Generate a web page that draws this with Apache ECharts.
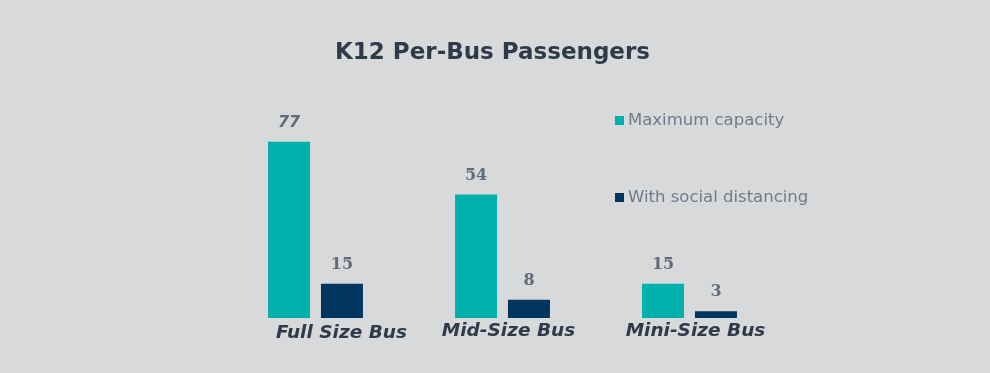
<!DOCTYPE html>
<html><head><meta charset="utf-8">
<script src="https://cdn.jsdelivr.net/npm/echarts@6/dist/echarts.min.js"></script>
<style>html,body{margin:0;padding:0;background:#d8d9db;}#c{width:990px;height:373px;}</style>
</head><body><div id="c"></div>
<script>
var categories = ['Full Size Bus', 'Mid-Size Bus', 'Mini-Size Bus'];
var maxCapacity = [77, 54, 15];
var socialDistancing = [15, 8, 3];
var seriesNames = ['Maximum capacity', 'With social distancing'];
var labelShift = [52, 12, 12];

var chart = echarts.init(document.getElementById('c'));
var labelStyle = {show: true, position: 'top', distance: 11, fontFamily: 'DejaVu Serif', fontWeight: 'bold', fontSize: 16, color: '#606b7b'};
var firstData = maxCapacity.map(function (v, i) {
  return i === 0 ? {value: v, label: {fontFamily: 'DejaVu Sans', fontStyle: 'italic'}} : v;
});
chart.setOption({
  backgroundColor: '#d8d9db',
  animation: false,
  title: {text: 'K12 Per-Bus Passengers', left: 330, top: 37,
    textStyle: {fontFamily: 'DejaVu Sans', fontWeight: 'bold', fontSize: 23, color: '#2f3b4a'}},
  legend: {orient: 'vertical', left: 610, top: 107, itemWidth: 9, itemHeight: 9, itemGap: 60, itemStyle: {borderWidth: 0},
    icon: 'rect', textStyle: {fontFamily: 'DejaVu Sans', fontSize: 16.5, color: '#6f7b8a', padding: [0, 0, 0, -1]}, data: seriesNames},
  grid: {left: 222, width: 561, top: 135, height: 183},
  xAxis: {type: 'category', data: categories.map(function (c, i) {
      return {value: c, textStyle: {padding: [i === 0 ? 2 : 0, 0, 0, labelShift[i]]}};
    }),
    axisLine: {show: false}, axisTick: {show: false},
    axisLabel: {margin: 4, fontFamily: 'DejaVu Sans', fontWeight: 'bold', fontStyle: 'italic', fontSize: 18.5, color: '#2f3b4a'}},
  yAxis: {type: 'value', min: 0, max: 80, show: false, splitLine: {show: false}},
  series: [
    {name: seriesNames[0], type: 'bar', data: firstData, barWidth: 42, barGap: '26%', itemStyle: {color: '#00b0ad'}, label: labelStyle},
    {name: seriesNames[1], type: 'bar', data: socialDistancing, barWidth: 42, itemStyle: {color: '#00355f'}, label: labelStyle}
  ]
});
</script></body></html>
